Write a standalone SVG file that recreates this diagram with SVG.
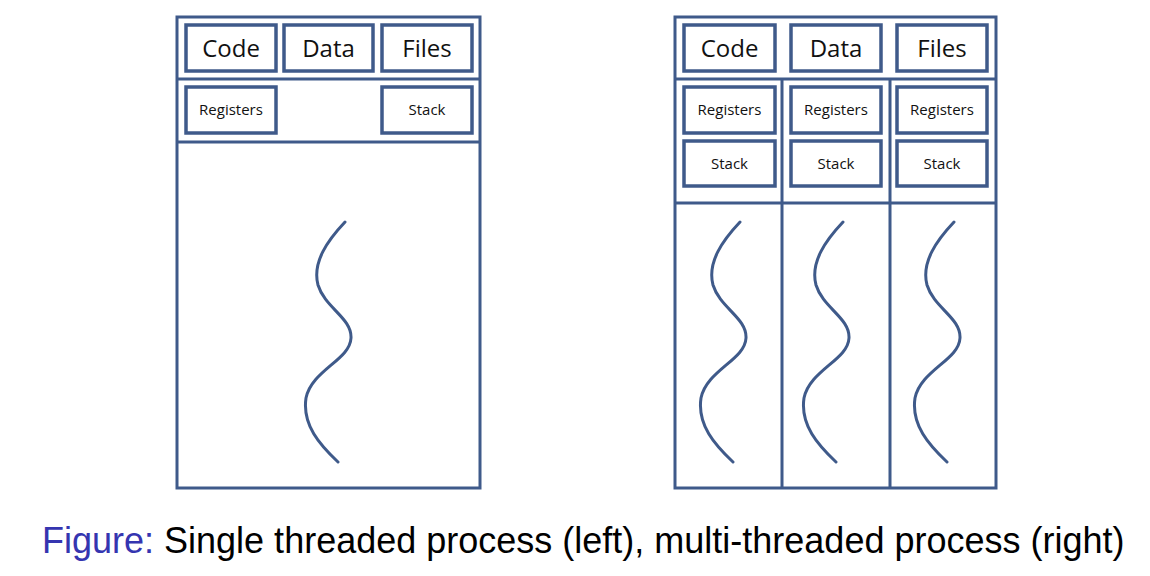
<svg xmlns="http://www.w3.org/2000/svg" width="1150" height="576" viewBox="0 0 1150 576">
  <style>
    .frame { fill: none; stroke: #3f5a8a; stroke-width: 3; }
    .box { fill: #ffffff; stroke: #3f5a8a; stroke-width: 3.5; }
    .big { font-family: "Open Sans", "Liberation Sans", sans-serif; font-size: 24px; fill: #111; text-anchor: middle; }
    .small { font-family: "Open Sans", "Liberation Sans", sans-serif; font-size: 15px; fill: #111; text-anchor: middle; }
    .thread { fill: none; stroke: #3f5a8a; stroke-width: 3; stroke-linecap: round; }
    .caption { font-family: "Liberation Sans", Arial, sans-serif; font-size: 36px; fill: #000; }
  </style>
  <defs>
    <path id="wave" d="M345,222 C328,240 312,262 318,285 C325,308 352,318 351,338 C350,360 312,370 306,398 C302,425 320,445 338,462"/>
  </defs>
  <rect width="1150" height="576" fill="#ffffff"/>

  <!-- Single-threaded process -->
  <g id="single-process">
    <rect class="frame" x="177" y="17" width="303" height="471"/>
    <line class="frame" x1="177" y1="79" x2="480" y2="79"/>
    <line class="frame" x1="177" y1="142" x2="480" y2="142"/>
  </g>
  <g id="single-code">
    <rect class="box" x="186" y="25" width="90" height="46"/>
    <text class="big" x="231" y="57">Code</text>
  </g>
  <g id="single-data">
    <rect class="box" x="284" y="25" width="89" height="46"/>
    <text class="big" x="328.5" y="57">Data</text>
  </g>
  <g id="single-files">
    <rect class="box" x="382" y="25" width="90" height="46"/>
    <text class="big" x="427" y="57">Files</text>
  </g>
  <g id="single-registers">
    <rect class="box" x="186" y="87" width="90" height="46"/>
    <text class="small" x="231" y="115">Registers</text>
  </g>
  <g id="single-stack">
    <rect class="box" x="382" y="87" width="90" height="46"/>
    <text class="small" x="427" y="115">Stack</text>
  </g>
  <g id="single-thread">
    <use href="#wave" class="thread"/>
  </g>

  <!-- Multi-threaded process -->
  <g id="multi-process">
    <rect class="frame" x="675" y="17" width="321" height="471"/>
    <line class="frame" x1="675" y1="79" x2="996" y2="79"/>
    <line class="frame" x1="675" y1="203" x2="996" y2="203"/>
    <line class="frame" x1="782" y1="79" x2="782" y2="488"/>
    <line class="frame" x1="890" y1="79" x2="890" y2="488"/>
  </g>
  <g id="multi-code">
    <rect class="box" x="684" y="25" width="91" height="46"/>
    <text class="big" x="729.5" y="57">Code</text>
  </g>
  <g id="multi-data">
    <rect class="box" x="791" y="25" width="90" height="46"/>
    <text class="big" x="836" y="57">Data</text>
  </g>
  <g id="multi-files">
    <rect class="box" x="897" y="25" width="90" height="46"/>
    <text class="big" x="942" y="57">Files</text>
  </g>
  <g id="thread1-registers">
    <rect class="box" x="684" y="87" width="91" height="46"/>
    <text class="small" x="729.5" y="115">Registers</text>
  </g>
  <g id="thread1-stack">
    <rect class="box" x="684" y="141" width="91" height="45"/>
    <text class="small" x="729.5" y="169">Stack</text>
  </g>
  <g id="thread2-registers">
    <rect class="box" x="791" y="87" width="90" height="46"/>
    <text class="small" x="836" y="115">Registers</text>
  </g>
  <g id="thread2-stack">
    <rect class="box" x="791" y="141" width="90" height="45"/>
    <text class="small" x="836" y="169">Stack</text>
  </g>
  <g id="thread3-registers">
    <rect class="box" x="897" y="87" width="90" height="46"/>
    <text class="small" x="942" y="115">Registers</text>
  </g>
  <g id="thread3-stack">
    <rect class="box" x="897" y="141" width="90" height="45"/>
    <text class="small" x="942" y="169">Stack</text>
  </g>
  <g id="threads">
    <use href="#wave" class="thread" transform="translate(395,0)"/>
    <use href="#wave" class="thread" transform="translate(498,0)"/>
    <use href="#wave" class="thread" transform="translate(609,0)"/>
  </g>

  <text class="caption" x="42" y="553"><tspan fill="#3535b0">Figure:</tspan> Single threaded process (left), multi-threaded process (right)</text>
</svg>
